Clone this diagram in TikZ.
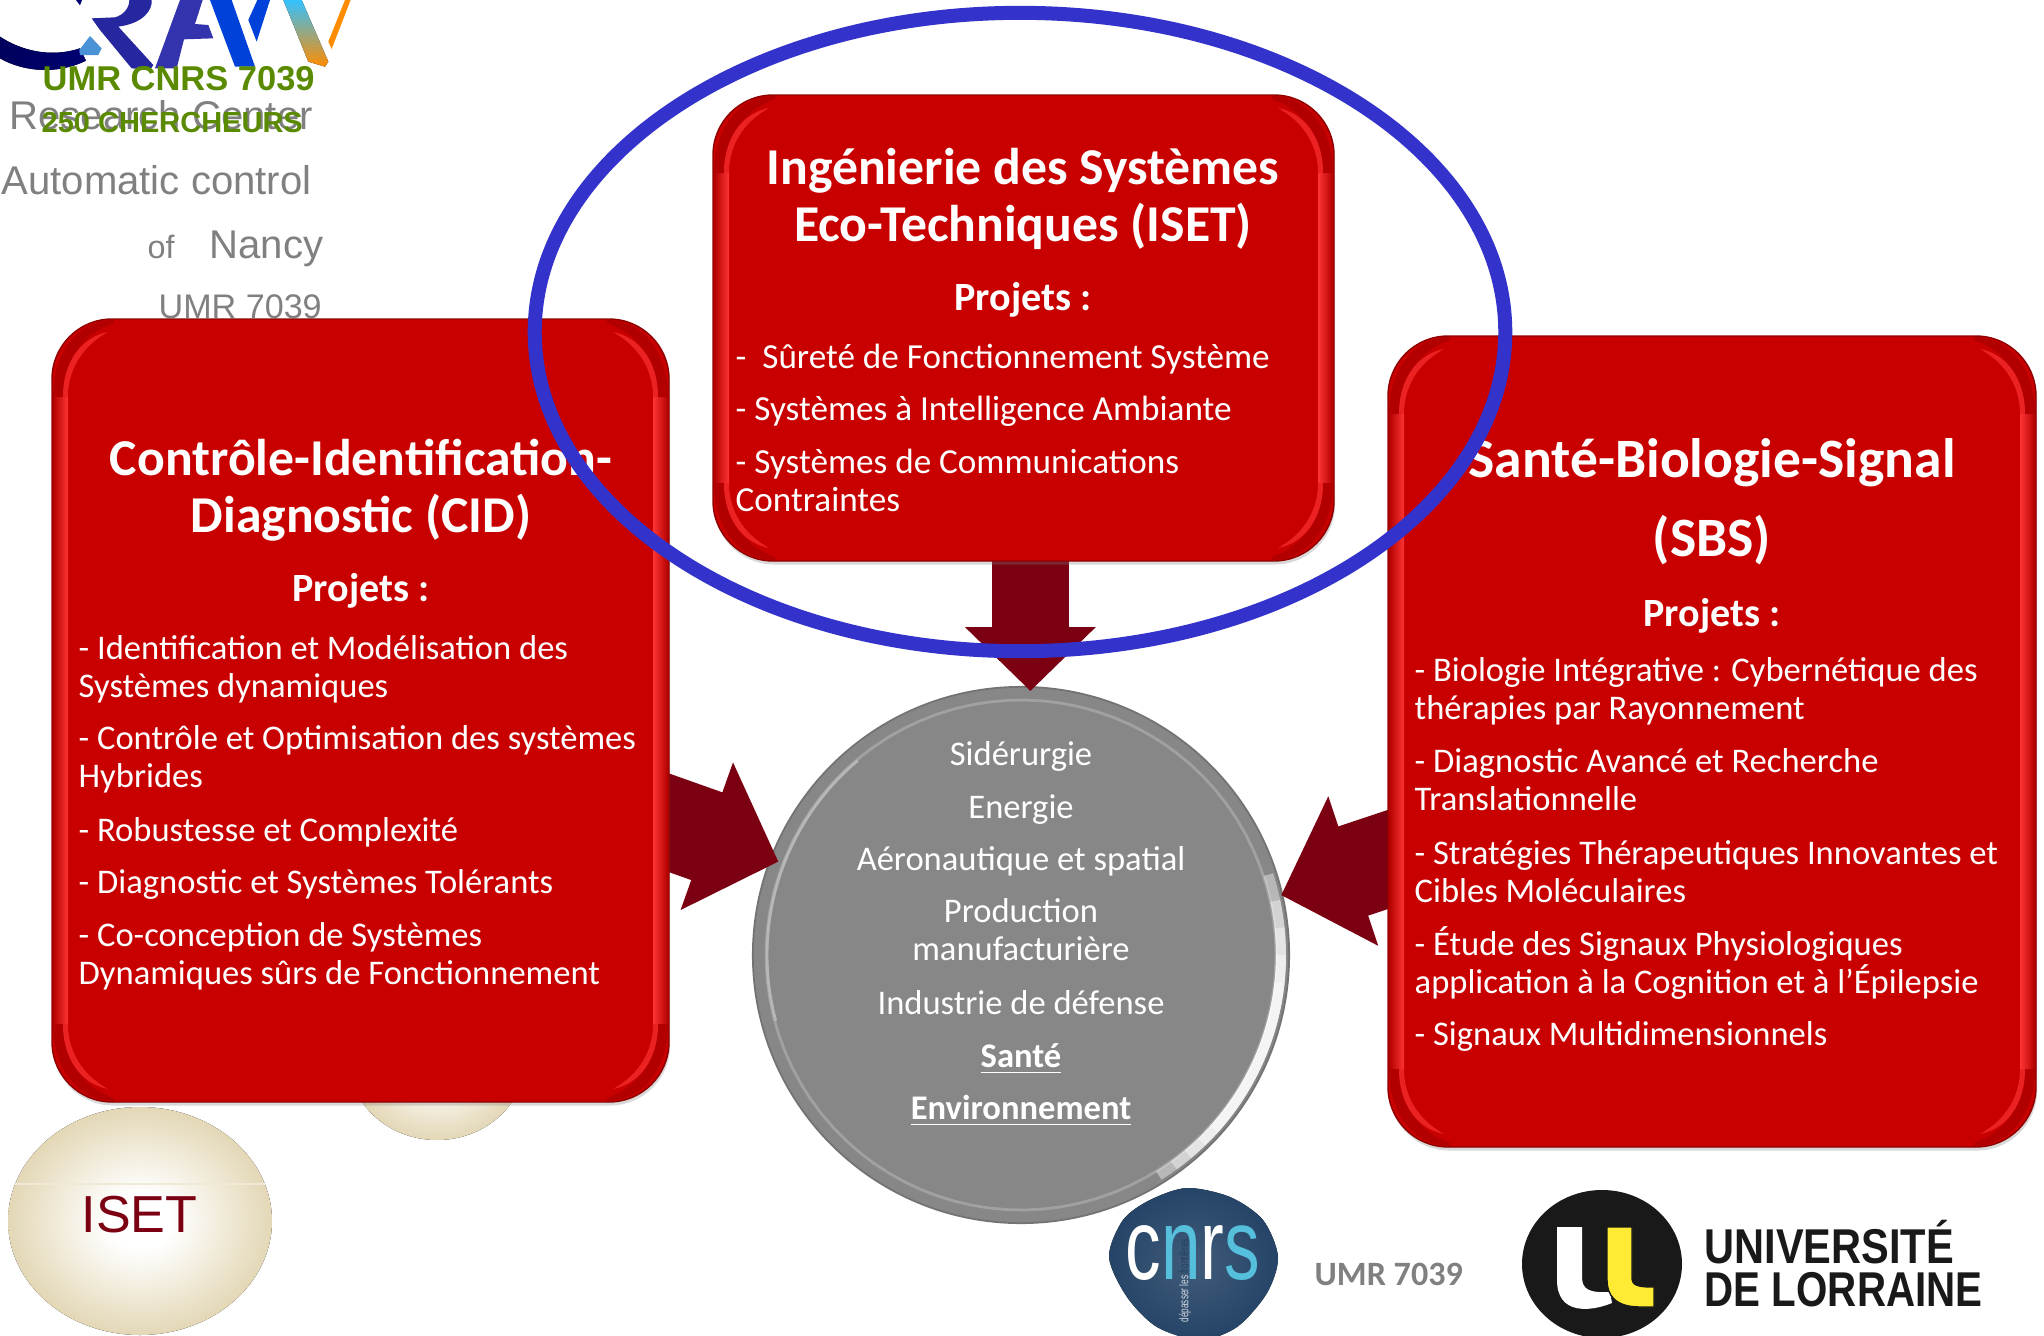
\documentclass[tikz,border=0pt]{standalone}
\usepackage{graphicx}
\usepackage{fontspec}
\setmainfont{Carlito}
\newfontfamily\arialfont{Liberation Sans}
\usetikzlibrary{arrows.meta,backgrounds,fit,shadows,shapes.geometric}

\definecolor{boxred}{HTML}{C80000}
\definecolor{boxdark}{HTML}{8E0000}
\definecolor{boxshade}{HTML}{B20000}
\definecolor{boxglow}{HTML}{FF3434}
\definecolor{arrowred}{HTML}{7B0012}
\definecolor{coregrey}{HTML}{878787}
\definecolor{focusblue}{HTML}{3333CC}
\definecolor{blobtan}{HTML}{E0D3AE}
\definecolor{labgreen}{HTML}{5A8A00}
\definecolor{labgrey}{HTML}{808080}
\definecolor{cnrsnavy}{HTML}{1F3F63}
\definecolor{cnrscyan}{HTML}{55BFDC}
\definecolor{ulyellow}{HTML}{FFEB33}

\pgfdeclareradialshading{blobshade}{\pgfpointorigin}{color(0bp)=(white); color(6bp)=(white); color(27bp)=(blobtan); color(50bp)=(blobtan)}
\pgfdeclareradialshading{cnrsshade}{\pgfpointorigin}{color(0bp)=(cnrsnavy!85!white); color(30bp)=(cnrsnavy); color(50bp)=(cnrsnavy)}

\tikzset{
  redbox/.style={rectangle,rounded corners=0.6cm,inner sep=0pt,fill=boxred,draw=boxdark,line width=0.4pt,
    drop shadow={shadow xshift=0.3pt,shadow yshift=-1pt,opacity=0.3}},
  corebox/.style={circle,minimum size=5.36cm,inner sep=0pt,fill=coregrey,draw=black!55,line width=0.5pt},
  bigarrow/.style={draw=arrowred,line width=#1},
  titletext/.style={text=white,align=center,font=\bfseries\fontsize{14.7}{16.2}\selectfont},
  projtext/.style={text=white,font=\bfseries\fontsize{11.4}{13}\selectfont},
  itemtext/.style={anchor=north west,inner sep=0pt,text=white,align=left,font=\fontsize{9.83}{10.8}\selectfont,execute at begin node=\strut},
  coretext/.style={anchor=north,inner sep=0pt,text=white,align=center,font=\fontsize{9.83}{10.8}\selectfont,execute at begin node=\strut},
  greytext/.style={anchor=base west,inner sep=0pt,text=labgrey,font=\arialfont\fontsize{11.4}{13}\selectfont},
  greentext/.style={anchor=base west,inner sep=0pt,text=labgreen,font=\arialfont\bfseries\fontsize{9.8}{12}\selectfont},
  glowcorner/.pic={
    \fill[boxshade] (1,78) .. controls (1,35) and (25,1) .. (62,1) -- (62,4) .. controls (32,14) and (11,42) .. (11,78) -- cycle;
    \fill[boxglow!65!boxred] (11,78) .. controls (11,42) and (30,18) .. (56,13) .. controls (36,24) and (16,45) .. (16,78) -- cycle;
  },
}

\begin{document}
\begin{tikzpicture}[x=0.01cm,y=-0.01cm]
\useasboundingbox (0,0) rectangle (2044,1336);

% logo at the top, cut by the page
\begin{scope}[scale=1/3]
\fill[left color=black!10!blue!40!black,right color=blue!45!black] (0,110) .. controls (60,150) and (150,175) .. (240,145) -- (258,182) .. controls (170,225) and (70,215) .. (0,175) -- cycle;
\fill[blue!45!black] (228,0) -- (246,0) -- (240,16) -- cycle;
\fill[cyan!60!blue!75!white] (270,108) -- (305,145) -- (295,165) -- (240,165) -- (238,150) -- cycle;
\fill[blue!55!black!85!white] (388,0) -- (455,0) .. controls (458,30) and (430,70) .. (355,80) -- (460,195) -- (450,210) -- (395,205) -- (300,90) -- (275,55) -- (345,52) .. controls (370,45) and (388,25) .. (388,0) -- cycle;
\fill[blue!60!black!80!white] (540,0) -- (608,0) -- (585,72) -- (625,75) -- (640,115) -- (552,118) -- (530,205) -- (465,205) -- cycle;
\fill[blue!70!cyan!85!black] (630,0) -- (695,0) -- (765,200) -- (705,200) -- cycle;
\fill[blue!70!cyan!85!black] (745,60) -- (770,125) -- (810,0) -- (772,0) -- cycle;
\fill[top color=cyan!70!blue!80!white,bottom color=orange!90!yellow] (850,0) -- (905,0) -- (985,185) -- (975,200) -- (925,185) -- cycle;
\fill[orange!90!yellow] (1035,0) -- (1052,0) -- (995,147) -- (985,125) -- cycle;
\end{scope}

% grey lab name and green header
\node[greytext] (labname) at (9,129) {Research Center};
\node[greytext] (labfield) at (1,194) {Automatic control};
\node[greytext,font=\arialfont\fontsize{9.2}{10}\selectfont] (labof) at (147,258) {of};
\node[greytext] (labcity) at (209,258) {Nancy};
\node[greytext,font=\arialfont\fontsize{9.7}{12}\selectfont] (labumr) at (158,318) {UMR 7039};
\node[greentext] (umrcnrs) at (42,90) {UMR CNRS 7039};
\node[greentext,font=\arialfont\bfseries\fontsize{8.25}{10}\selectfont] (headcount) at (41,132) {250 CHERCHEURS};

% beige discs
\fill[shading=blobshade] (437,1060) ellipse (88 and 80);
\fill[shading=blobshade] (140,1221) ellipse (132 and 114);
\draw[blobtan!50!white,line width=0.3pt] (14,1184) -- (265,1184);
\node[anchor=base west,inner sep=0pt,text=arrowred,font=\arialfont\fontsize{14.8}{18}\selectfont] (isetdisc) at (81,1232) {ISET};

% the three red boxes
\foreach \nm/\xa/\ya/\xb/\yb in {iset/713/95/1334/561,cid/52/319/669/1102,sbs/1388/336/2036/1147}{
  \node[redbox,fit={(\xa,\ya) (\xb,\yb)}] (\nm) {};
  \fill[left color=boxshade,right color=boxglow] ({\xa+1},{\ya+78}) rectangle ({\xa+16},{\yb-78});
  \fill[left color=boxglow,right color=boxshade] ({\xb-16},{\ya+78}) rectangle ({\xb-1},{\yb-78});
  \pic at (\xa,\ya) {glowcorner};
  \pic[xscale=-1] at (\xb,\ya) {glowcorner};
  \pic[yscale=-1] at (\xa,\yb) {glowcorner};
  \pic[xscale=-1,yscale=-1] at (\xb,\yb) {glowcorner};
}

% disc and block arrows go behind the boxes
\begin{scope}[on background layer]
\node[corebox] (core) at (1021,955) {};
\draw[white!22!coregrey,line width=0.8pt] plot[domain=0:360,samples=90] ({1021+255*cos(\x)},{955+255*sin(\x)});
\draw[white!40!coregrey,line width=0.8pt] plot[domain=165:230,samples=30] ({1021+254*cos(\x)},{955+254*sin(\x)});
\foreach \aa/\ab in {-18/58,-12/54,-6/50,0/46,6/42}
  \draw[white,opacity=0.4,line width=0.1cm] plot[domain=\aa:\ab,samples=30] ({1021+260*cos(\x)},{955+260*sin(\x)});
\draw[bigarrow=0.77cm,-{Triangle[length=0.64cm,width=1.27cm]},shorten <=-5pt,shorten >=-1.4pt] (core.88.75 |- iset.south) -- (core.88.75);
\draw[bigarrow=0.93cm,-{Triangle[length=0.76cm,width=1.52cm]},shorten <=-5pt,shorten >=-2.6pt] (cid.-20) -- (core.159);
\draw[bigarrow=0.94cm,-{Triangle[length=0.76cm,width=1.53cm]},shorten <=-5pt,shorten >=-0.6pt] (sbs.200.8) -- (core.13.5);
\end{scope}

% box texts
\node[titletext] (isettitle) at (1023,199) {Ingénierie des Systèmes\\Eco-Techniques (ISET)};
\node[projtext] (isetproj) at (1023,300) {Projets :};
\node[titletext] (cidtitle) at (361,490) {Contrôle-Identification-\\Diagnostic (CID)};
\node[projtext] (cidproj) at (361,591) {Projets :};
\node[titletext,font=\bfseries\fontsize{15.8}{16.2}\selectfont] (sbstitle) at (1712,502) {Santé-Biologie-Signal\\[6.3pt](SBS)};
\node[projtext] (sbsproj) at (1712,616) {Projets :};

\foreach \nm/\yy/\txt in {
  iseta/341/{-\ \ Sûreté de Fonctionnement Système},
  isetb/393/{- Systèmes à Intelligence Ambiante},
  isetc/448/{- Systèmes de Communications\\Contraintes}}{
  \node[itemtext,font=\fontsize{10}{10.8}\selectfont] (\nm) at (735,\yy) {\txt};
}

\foreach \nm/\xx/\yy/\txt in {
  cida/78/635/{- Identification et Modélisation des\\Systèmes dynamiques},
  cidb/78/725/{- Contrôle et Optimisation des systèmes\\Hybrides},
  cidc/78/814/{- Robustesse et Complexité},
  cidd/78/866/{- Diagnostic et Systèmes Tolérants},
  cide/78/922/{- Co-conception de Systèmes\\Dynamiques sûrs de Fonctionnement},
  sbsa/1414/657/{- Biologie Intégrative : Cybernétique des\\thérapies par Rayonnement},
  sbsb/1414/748/{- Diagnostic Avancé et Recherche\\Translationnelle},
  sbsc/1414/840/{- Stratégies Thérapeutiques Innovantes et\\Cibles Moléculaires},
  sbsd/1414/926/{- Étude des Signaux Physiologiques\\application à la Cognition et à l’Épilepsie},
  sbse/1414/1018/{- Signaux Multidimensionnels}}{
  \node[itemtext] (\nm) at (\xx,\yy) {\txt};
}

% sectors inside the disc
\foreach \nm/\yy/\txt in {
  corea/738/{Sidérurgie},
  coreb/791/{Energie},
  corec/843/{Aéronautique et spatial},
  cored/898/{Production\\manufacturière},
  coree/987/{Industrie de défense},
  coref/1040/{\textbf{\underline{Santé}}},
  coreg/1092/{\textbf{\underline{Environnement}}}}{
  \node[coretext] (\nm) at (1021,\yy) {\txt};
}

% logos at the bottom
\fill[shading=cnrsshade] plot[smooth cycle] coordinates {(1187,1188) (1230,1197) (1263,1220) (1278,1257) (1267,1293) (1237,1327) (1200,1340) (1157,1327) (1127,1297) (1109,1257) (1123,1220) (1150,1200)};
\node[anchor=base west,inner sep=0pt,font=\arialfont\fontsize{28.5}{30}\selectfont] (cnrslogo) at (1125,1279) {\scalebox{0.71}[1]{\textcolor{white}{c}\textcolor{cnrscyan}{n}\textcolor{white}{r}\textcolor{cnrscyan}{s}}};
\node[rotate=90,anchor=west,inner sep=0pt,font=\arialfont\fontsize{3.6}{5}\selectfont,text=white!80!cnrsnavy] (cnrsmotto) at (1185,1323) {\scalebox{0.65}[1]{dépasser les \textcolor{cnrsnavy}{frontières}}};
\node[anchor=base west,inner sep=0pt,text=labgrey,font=\bfseries\fontsize{9.7}{12}\selectfont] (umrlabel) at (1314,1285) {UMR 7039};

\fill[black!90] (1602,1264) ellipse (80 and 74);
\fill[white] (1557,1227) -- (1582,1227) -- (1582,1277) .. controls (1582,1290) and (1590,1293) .. (1610,1292) -- (1612,1303) .. controls (1590,1312) and (1557,1315) .. (1557,1280) -- cycle;
\filldraw[fill=ulyellow,draw=black!90,line width=0.4pt] (1607,1227) -- (1632,1227) -- (1632,1277) .. controls (1632,1285) and (1636,1287) .. (1654,1287) -- (1654,1307) -- (1640,1307) .. controls (1615,1307) and (1607,1295) .. (1607,1280) -- cycle;
\node[anchor=base west,inner sep=0pt,text=black!90,font=\arialfont\bfseries\fontsize{13.9}{16}\selectfont] (ultop) at (1704,1263) {\scalebox{0.85}[1]{UNIVERSITÉ}};
\node[anchor=base west,inner sep=0pt,text=black!90,font=\arialfont\bfseries\fontsize{13.9}{16}\selectfont] (ulbottom) at (1704,1306) {\scalebox{0.825}[1]{DE LORRAINE}};

% blue ring over everything
\node[ellipse,draw=focusblue,line width=0.14cm,minimum width=9.7cm,minimum height=6.38cm,inner sep=0pt] (focus) at (1020,332) {};
\end{tikzpicture}
\end{document}
